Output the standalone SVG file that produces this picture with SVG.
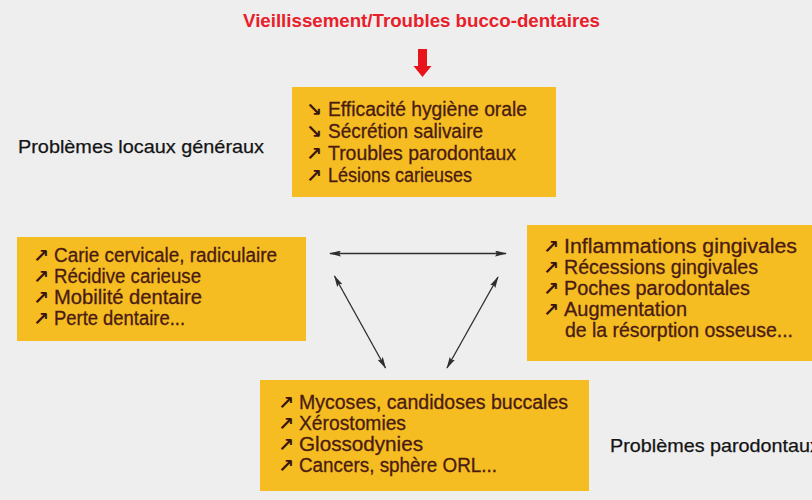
<svg xmlns="http://www.w3.org/2000/svg" width="812" height="500" viewBox="0 0 812 500">
  <defs>
    <style>
      .bg { fill: #eeeeee; }
      .box { fill: #f5bd22; }
      .t { font-family: "Liberation Sans", Arial, sans-serif; font-size: 19.5px; fill: #4a1b12; stroke: #4a1b12; stroke-width: 0.3; }
      .ar { font-family: "DejaVu Sans", sans-serif; font-size: 19px; font-weight: bold; fill: #3a1510; }
      .lbl { font-family: "Liberation Sans", Arial, sans-serif; font-size: 19px; fill: #141414; stroke: #141414; stroke-width: 0.25; }
      .title { font-family: "Liberation Sans", Arial, sans-serif; font-size: 18.5px; font-weight: bold; fill: #e8202a; }
      .conn { stroke: #2e2e2e; stroke-width: 1.3; fill: none; marker-start: url(#ah); marker-end: url(#ah); }
    </style>
    <marker id="ah" viewBox="0 0 12 6" refX="11" refY="3" markerWidth="12" markerHeight="6" markerUnits="userSpaceOnUse" orient="auto-start-reverse">
      <path d="M0,0 L12,3 L0,6 L2,3 Z" fill="#2e2e2e"/>
    </marker>
  </defs>

  <rect class="bg" x="0" y="0" width="812" height="500"/>

  <g id="title">
    <text class="title" x="243" y="27" textLength="357" lengthAdjust="spacingAndGlyphs">Vieillissement/Troubles bucco-dentaires</text>
    <path d="M418,49 L427,49 L427,66 L431.5,66 L422.5,77 L413.5,66 L418,66 Z" fill="#e8141c"/>
  </g>

  <g id="label-locaux">
    <text class="lbl" x="18" y="153" textLength="246" lengthAdjust="spacingAndGlyphs">Problèmes locaux généraux</text>
  </g>

  <g id="label-parodontaux">
    <text class="lbl" x="610" y="452" textLength="210" lengthAdjust="spacingAndGlyphs">Problèmes parodontaux</text>
  </g>

  <g id="node-top">
    <rect class="box" x="292" y="87" width="264" height="110"/>
    <text class="ar" x="306" y="116">↘</text>
    <text class="t" x="328" y="116" textLength="199" lengthAdjust="spacingAndGlyphs">Efficacité hygiène orale</text>
    <text class="ar" x="306" y="138">↘</text>
    <text class="t" x="328" y="138" textLength="155" lengthAdjust="spacingAndGlyphs">Sécrétion salivaire</text>
    <text class="ar" x="306" y="160">↗</text>
    <text class="t" x="328" y="160" textLength="188" lengthAdjust="spacingAndGlyphs">Troubles parodontaux</text>
    <text class="ar" x="306" y="182">↗</text>
    <text class="t" x="328" y="182" textLength="144" lengthAdjust="spacingAndGlyphs">Lésions carieuses</text>
  </g>

  <g id="node-left">
    <rect class="box" x="17" y="237" width="289" height="104"/>
    <text class="ar" x="33" y="262">↗</text>
    <text class="t" x="54" y="262" textLength="223" lengthAdjust="spacingAndGlyphs">Carie cervicale, radiculaire</text>
    <text class="ar" x="33" y="283">↗</text>
    <text class="t" x="54" y="283" textLength="147" lengthAdjust="spacingAndGlyphs">Récidive carieuse</text>
    <text class="ar" x="33" y="304">↗</text>
    <text class="t" x="54" y="304" textLength="148" lengthAdjust="spacingAndGlyphs">Mobilité dentaire</text>
    <text class="ar" x="33" y="325">↗</text>
    <text class="t" x="54" y="325" textLength="131" lengthAdjust="spacingAndGlyphs">Perte dentaire...</text>
  </g>

  <g id="node-right">
    <rect class="box" x="527" y="225" width="290" height="136"/>
    <text class="ar" x="543" y="253">↗</text>
    <text class="t" x="564" y="253" textLength="233" lengthAdjust="spacingAndGlyphs">Inflammations gingivales</text>
    <text class="ar" x="543" y="274">↗</text>
    <text class="t" x="564" y="274" textLength="194" lengthAdjust="spacingAndGlyphs">Récessions gingivales</text>
    <text class="ar" x="543" y="295">↗</text>
    <text class="t" x="564" y="295" textLength="186" lengthAdjust="spacingAndGlyphs">Poches parodontales</text>
    <text class="ar" x="543" y="316">↗</text>
    <text class="t" x="564" y="316" textLength="123" lengthAdjust="spacingAndGlyphs">Augmentation</text>
    <text class="t" x="565" y="337" textLength="228" lengthAdjust="spacingAndGlyphs">de la résorption osseuse...</text>
  </g>

  <g id="node-bottom">
    <rect class="box" x="260" y="380" width="329" height="111"/>
    <text class="ar" x="278" y="409">↗</text>
    <text class="t" x="299" y="409" textLength="269" lengthAdjust="spacingAndGlyphs">Mycoses, candidoses buccales</text>
    <text class="ar" x="278" y="430">↗</text>
    <text class="t" x="299" y="430" textLength="107" lengthAdjust="spacingAndGlyphs">Xérostomies</text>
    <text class="ar" x="278" y="451">↗</text>
    <text class="t" x="299" y="451" textLength="124" lengthAdjust="spacingAndGlyphs">Glossodynies</text>
    <text class="ar" x="278" y="472">↗</text>
    <text class="t" x="299" y="472" textLength="198" lengthAdjust="spacingAndGlyphs">Cancers, sphère ORL...</text>
  </g>

  <g id="connectors">
    <line class="conn" x1="330" y1="253.5" x2="506" y2="253.5"/>
    <line class="conn" x1="334.5" y1="276" x2="385.5" y2="368"/>
    <line class="conn" x1="498" y1="277" x2="447" y2="368"/>
  </g>
</svg>
